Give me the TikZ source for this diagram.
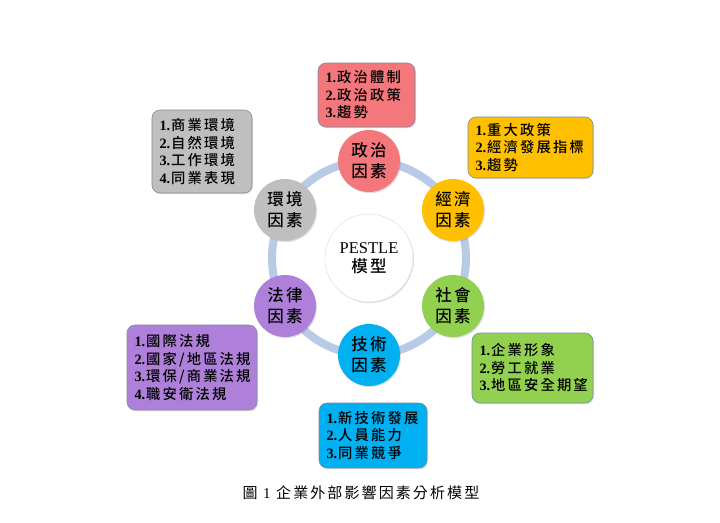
\documentclass[tikz,border=0pt]{standalone}
\usepackage{fontspec}
\setmainfont{Liberation Serif}
\newfontfamily\cjk[LetterSpace=15,UprightFont={* Medium}]{Noto Sans CJK TC}
\newfontfamily\cjkc[LetterSpace=14,UprightFont={* Medium}]{Noto Sans CJK TC}
\newfontfamily\cjkcap[LetterSpace=14]{Noto Sans CJK TC}
\newcommand\itm[1]{{\rmfamily\bfseries #1.\kern1pt}}
\usetikzlibrary{shadows}
\definecolor{polc}{HTML}{F4777B}
\definecolor{ecoc}{HTML}{FFC000}
\definecolor{socc}{HTML}{92D050}
\definecolor{tecc}{HTML}{00B0F0}
\definecolor{legc}{HTML}{AE80DA}
\definecolor{envc}{HTML}{BFBFBF}
\definecolor{ringc}{HTML}{B8CBE6}
\definecolor{boxedge}{HTML}{7C8DA3}
\begin{document}
\begin{tikzpicture}[x=1pt,y=-1pt,
  shd/.style={drop shadow={opacity=0.25,shadow xshift=1pt,shadow yshift=-1.2pt}},
  infobox/.style={draw=boxedge, line width=0.6pt, rounded corners=8pt, inner xsep=7.5pt, inner ysep=3pt,
    align=left, font=\cjk\fontsize{14.3}{17.5}\selectfont, shd},
  factor/.style={circle, minimum size=62pt, inner sep=0pt, align=center,
    font=\cjkc\fontsize{16.5}{21}\selectfont, shd},
  ring/.style={draw=ringc, line width=8pt}
]
\useasboundingbox (0,0) rectangle (720,522);
\fill[white] (0,0) rectangle (720,522);
\coordinate (C) at (369,258);
\draw[ring] (C) circle (97pt);
\node[circle, minimum size=88pt, fill=white, draw=black!12, line width=0.5pt, inner sep=0pt, align=center, shd] (core) at (C)
  {{\fontsize{16.5}{20}\selectfont PESTLE}\\[4pt]{\cjkc\fontsize{16.5}{18}\selectfont 模型}};
\node[factor, fill=polc] (pol) at (369,161) {政治\\因素};
\node[factor, fill=ecoc] (eco) at (453,210) {經濟\\因素};
\node[factor, fill=socc] (soc) at (453,306) {社會\\因素};
\node[factor, fill=tecc] (tec) at (369,355) {技術\\因素};
\node[factor, fill=legc] (leg) at (285,306) {法律\\因素};
\node[factor, fill=envc] (env) at (285,210) {環境\\因素};

\node[infobox, fill=polc, text width=82pt, minimum height=64pt] (polb) at (366.5,95)
  {\itm1政治體制\\\itm2政治政策\\\itm3趨勢};
\node[infobox, fill=envc, text width=85pt, minimum height=83pt] (envb) at (202,151.5)
  {\itm1商業環境\\\itm2自然環境\\\itm3工作環境\\\itm4同業表現};
\node[infobox, fill=ecoc, text width=110pt, minimum height=61pt] (ecob) at (530.5,147.5)
  {\itm1重大政策\\\itm2經濟發展指標\\\itm3趨勢};
\node[infobox, fill=legc, text width=115pt, minimum height=85pt] (legb) at (192,367.5)
  {\itm1國際法規\\\itm2國家/地區法規\\\itm3環保/商業法規\\\itm4職安衛法規};
\node[infobox, fill=socc, text width=106pt, minimum height=70pt] (socb) at (532.5,368)
  {\itm1企業形象\\\itm2勞工就業\\\itm3地區安全期望};
\node[infobox, fill=tecc, text width=93pt, minimum height=65pt] (tecb) at (373,435.5)
  {\itm1新技術發展\\\itm2人員能力\\\itm3同業競爭};

\node[font=\cjkcap\fontsize{15}{17}\selectfont, inner sep=0pt] (cap) at (361,493) {圖 {\rmfamily 1} 企業外部影響因素分析模型};
\end{tikzpicture}
\end{document}
